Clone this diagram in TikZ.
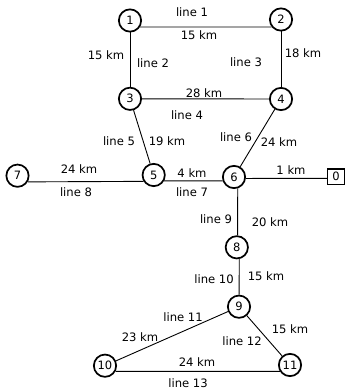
\documentclass[tikz,border=0pt]{standalone}
\usepackage{fontspec}
\setmainfont{DejaVu Sans}
\begin{document}
\begin{tikzpicture}[x=1pt,y=-1pt,
  bus/.style={circle,draw,line width=1.7pt,minimum size=22.3pt,inner sep=0pt,font=\fontsize{11.5}{12}\selectfont},
  src/.style={rectangle,draw,line width=1.4pt,minimum width=17pt,minimum height=15.5pt,inner sep=0pt,font=\fontsize{11.5}{12}\selectfont},
  lbl/.style={inner sep=0pt,font=\fontsize{11.6}{13}\selectfont},
  ln/.style={line width=0.9pt}]
\useasboundingbox (0,0) rectangle (345,390);
% buses
\node[bus] (n1) at (130,20.5) {1};
\node[bus] (n2) at (281,19.5) {2};
\node[bus] (n3) at (130,98.8) {3};
\node[bus] (n4) at (281,99) {4};
\node[bus] (n5) at (153.7,175) {5};
\node[bus] (n6) at (234,177) {6};
\node[bus] (n7) at (17.5,175.7) {7};
\node[src] (n0) at (336,176.7) {0};
\node[bus] (n8) at (236.8,247.3) {8};
\node[bus] (n9) at (239,306.7) {9};
\node[bus] (n10) at (105,365.7) {10};
\node[bus] (n11) at (290,365) {11};
% lines
\draw[ln] (n1.-33) -- (n2.-141);
\draw[ln] (n1) -- (n3);
\draw[ln] (n2) -- (n4);
\draw[ln] (n3) -- (n4);
\draw[ln] (n3) -- (n5);
\draw[ln] (n4) -- (n6);
\draw[ln] (n7.-31) -- (n5.-148);
\draw[ln] (n5.-29) -- (n6.-161);
\draw[ln] (n6.-7) -- ([yshift=-1.6pt]n0.west);
\draw[ln] (n6.-72) -- (n8.86);
\draw[ln] (n8.-78) -- (n9);
\draw[ln] (n9) -- (n10);
\draw[ln] (n9) -- (n11);
\draw[ln] (n10.-28) -- (n11.-148);
% labels
\node[lbl] (l1) at (192,12) {line 1};
\node[lbl] (d1) at (199,35) {15 km};
\node[lbl] (d2) at (106,55) {15 km};
\node[lbl] (l2) at (153,63) {line 2};
\node[lbl] (l3) at (246,62) {line 3};
\node[lbl] (d3) at (303,53) {18 km};
\node[lbl] (d4) at (204,93) {28 km};
\node[lbl] (l4) at (187,115) {line 4};
\node[lbl] (l5) at (119,141) {line 5};
\node[lbl] (d5) at (167,141) {19 km};
\node[lbl] (l6) at (236,137) {line 6};
\node[lbl] (d6) at (279,142) {24 km};
\node[lbl] (d8) at (79,169) {24 km};
\node[lbl] (l8) at (76,192) {line 8};
\node[lbl] (d7) at (192,173) {4 km};
\node[lbl] (l7) at (192,192) {line 7};
\node[lbl] (d0) at (291,170) {1 km};
\node[lbl] (l9) at (216,219) {line 9};
\node[lbl] (d9) at (270,222) {20 km};
\node[lbl] (l10) at (214,279) {line 10};
\node[lbl] (d10) at (266,276) {15 km};
\node[lbl] (l11) at (183,317) {line 11};
\node[lbl] (d11) at (140,337) {23 km};
\node[lbl] (l12) at (242,341) {line 12};
\node[lbl] (d12) at (290,329) {15 km};
\node[lbl] (d13) at (197,362) {24 km};
\node[lbl] (l13) at (188,383) {line 13};
\end{tikzpicture}
\end{document}
